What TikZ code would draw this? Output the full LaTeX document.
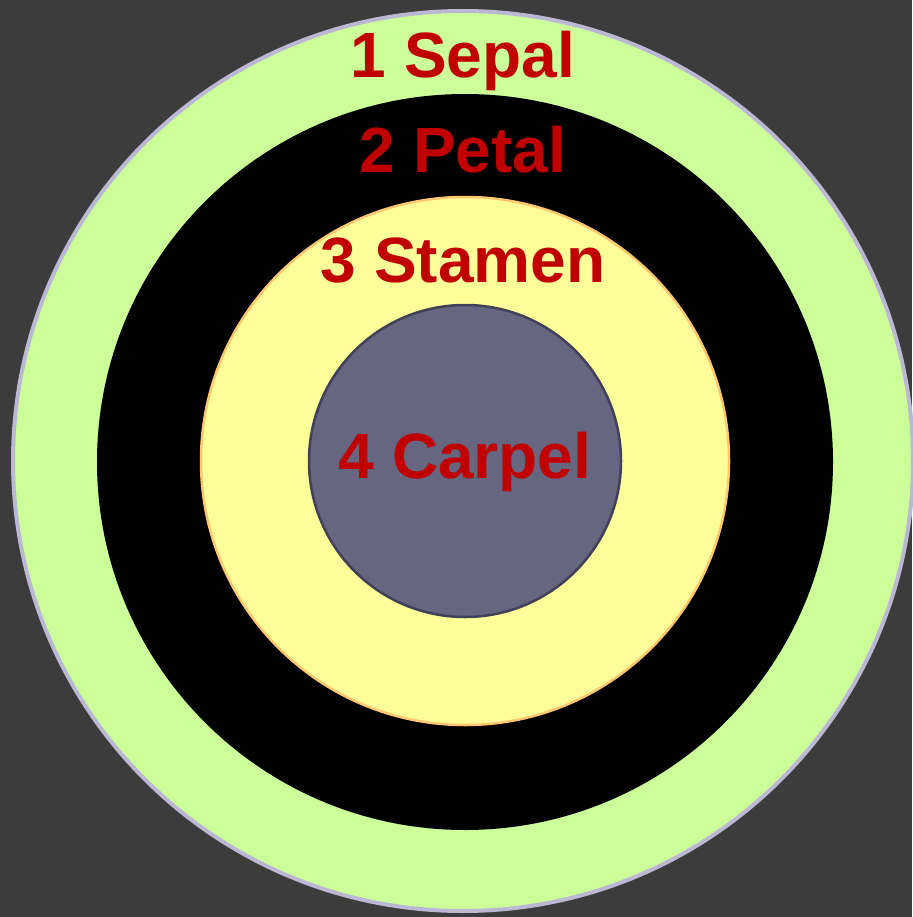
\documentclass[tikz,border=0pt]{standalone}
\usepackage{fontspec}
\setmainfont{Liberation Sans}
\definecolor{bg}{HTML}{3C3C3C}
\definecolor{sepal}{HTML}{CCFF99}
\definecolor{sepalrim}{HTML}{BCB8D4}
\definecolor{stamen}{HTML}{FFFF99}
\definecolor{stamenrim}{HTML}{FFC870}
\definecolor{carpel}{HTML}{666680}
\definecolor{carpelrim}{HTML}{404058}
\definecolor{lbl}{HTML}{C00000}
\begin{document}
\begin{tikzpicture}[x=1pt,y=-1pt,
  lab/.style={anchor=base,text=lbl,font=\fontsize{64}{64}\selectfont\bfseries,inner sep=0pt}]
\fill[bg] (0,0) rectangle (912,917);
\useasboundingbox (0,0) rectangle (912,917);
\fill[sepal,draw=sepalrim,line width=4pt] (463,461) circle (450);
\fill[black] (465,462) circle (368);
\fill[stamen,draw=stamenrim,line width=2.5pt] (465,461) circle (264);
\fill[carpel,draw=carpelrim,line width=2.5pt] (465,461) circle (156);
\node[lab] (s1) at (463,78) {1 Sepal};
\node[lab] (s2) at (463,173) {2 Petal};
\node[lab] (s3) at (463,282) {3 Stamen};
\node[lab] (s4) at (465,478) {4 Carpel};
\end{tikzpicture}
\end{document}
